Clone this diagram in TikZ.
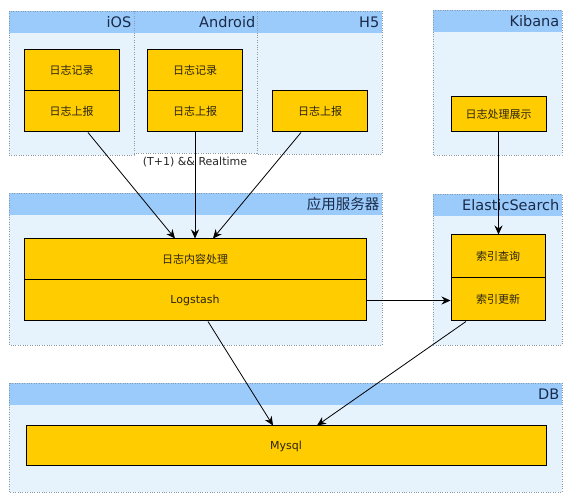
\documentclass[tikz,border=0pt]{standalone}
\usepackage{fontspec}
\setmainfont{DejaVu Sans}
\newfontfamily\cjk{Noto Sans CJK SC}
\usetikzlibrary{arrows.meta, calc}
\definecolor{panelfill}{HTML}{E6F3FD}
\definecolor{bandfill}{HTML}{9ACBFA}
\definecolor{panelline}{HTML}{8A99A8}
\definecolor{cellfill}{HTML}{FFCC00}
\definecolor{titletext}{HTML}{1B2A48}
\definecolor{celltext}{HTML}{2A2410}
\tikzset{
  border/.style={draw=panelline, line width=0.7pt, dash pattern=on 0.8pt off 1.6pt},
  paneltitle/.style={anchor=east, inner sep=0pt, text=titletext,
                     font=\fontsize{14.5}{16}\selectfont},
  cell/.style={draw=black, line width=1pt, fill=cellfill, text=celltext,
               minimum width=95pt, minimum height=41pt, inner sep=0pt,
               font=\cjk\fontsize{11}{13}\selectfont},
  latin/.style={font=\fontsize{11}{13}\selectfont},
  note/.style={inner sep=0pt, text=black!85, font=\fontsize{11}{13}\selectfont},
  flow/.style={-{Stealth[length=9pt, width=8pt, inset=3pt]}, line width=0.8pt, draw=black},
}

\begin{document}
\begin{tikzpicture}[x=1pt, y=-1pt]
  \useasboundingbox (0,0) rectangle (576,502);
  % panels with their header bands
  \foreach \nm/\xa/\ya/\xb/\yb/\ttl in {ios/9/11/134/155/iOS,
      android/134/11/258/153/Android, h5/257/11/382/154/H5,
      kibana/433/10/562/155/Kibana, server/9/193/382/345/{\cjk 应用服务器},
      es/433/194/562/345/ElasticSearch, db/9/383/562/492/DB}{
    \fill[panelfill] (\xa,\ya) rectangle (\xb,\yb);
    \fill[bandfill] (\xa,\ya) rectangle (\xb,\ya+22);
    \draw[border] (\xa,\ya) rectangle (\xb,\yb);
    \node[paneltitle] (\nm) at (\xb-2.5,\ya+11) {\ttl};
  }

  % client side
  \foreach \nm/\x in {ios/71.5, android/195}{
    \node[cell] (\nm-rec) at (\x,70.5) {日志记录};
    \node[cell] (\nm-rep) at (\x,111.5) {日志上报};
  }
  \node[cell] (h5-rep) at (320,111.5) {日志上报};
  \node[cell, minimum height=35pt] (kib-show) at (498.5,114.5) {日志处理展示};

  % server and search
  \node[cell, minimum width=342pt] (proc) at (195,259.5) {日志内容处理};
  \node[cell, minimum width=342pt, latin] (logstash) at (195,300.5) {Logstash};
  \node[cell, minimum width=94pt, minimum height=43pt] (es-query) at (498,256.5) {索引查询};
  \node[cell, minimum width=94pt, minimum height=43pt] (es-update) at (498,299.5) {索引更新};

  % storage
  \node[cell, minimum width=520pt, minimum height=40pt, latin] (mysql) at (286,446) {Mysql};

  \node[note] (timing) at (195,162.5) {(T+1) \&\& Realtime};

  \draw[flow] ($(ios-rep.south)+(16.5,0)$) -- ($(proc.north)+(-20,0)$);
  \draw[flow] (android-rep.south) -- (proc.north);
  \draw[flow] ($(h5-rep.south)+(-19,0)$) -- ($(proc.north)+(18,0)$);
  \draw[flow] (kib-show.south) -- (kib-show.south |- es-query.north);
  \draw[flow] (logstash.east) -- (logstash.east -| es-update.west);
  \draw[flow] ($(logstash.south)+(13,0)$) -- ($(mysql.north)+(-13,0)$);
  \draw[flow] ($(es-update.south)+(-32,0)$) -- ($(mysql.north)+(31,0)$);
\end{tikzpicture}
\end{document}
